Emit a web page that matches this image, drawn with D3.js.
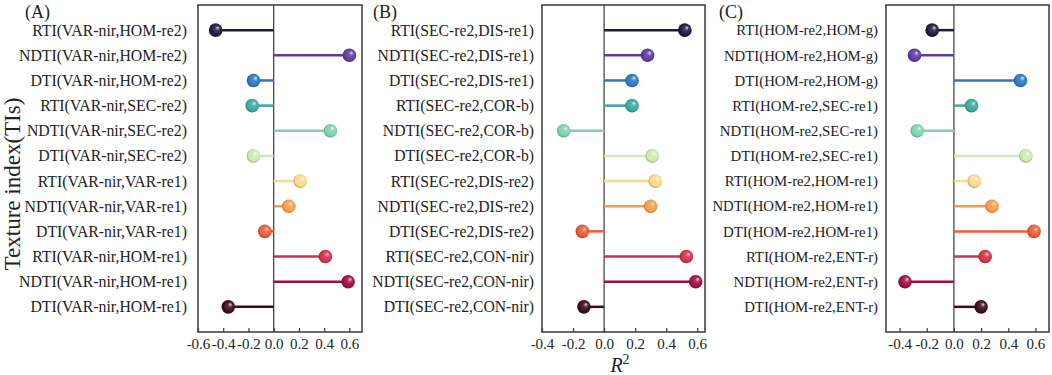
<!DOCTYPE html>
<html><head><meta charset="utf-8">
<script src="https://cdn.jsdelivr.net/npm/d3@7"></script>
<style>
body{margin:0;background:#fff;}
svg{display:block;font-family:"Liberation Serif","Times New Roman",serif;}
</style></head>
<body><svg id="c" width="1052" height="375"></svg>
<script>
const labelsA = ["RTI(VAR-nir,HOM-re2)","NDTI(VAR-nir,HOM-re2)","DTI(VAR-nir,HOM-re2)","RTI(VAR-nir,SEC-re2)","NDTI(VAR-nir,SEC-re2)","DTI(VAR-nir,SEC-re2)","RTI(VAR-nir,VAR-re1)","NDTI(VAR-nir,VAR-re1)","DTI(VAR-nir,VAR-re1)","RTI(VAR-nir,HOM-re1)","NDTI(VAR-nir,HOM-re1)","DTI(VAR-nir,HOM-re1)"];
const valuesA = [-0.46,0.60,-0.16,-0.17,0.45,-0.16,0.21,0.12,-0.07,0.41,0.59,-0.36];
const labelsB = ["RTI(SEC-re2,DIS-re1)","NDTI(SEC-re2,DIS-re1)","DTI(SEC-re2,DIS-re1)","RTI(SEC-re2,COR-b)","NDTI(SEC-re2,COR-b)","DTI(SEC-re2,COR-b)","RTI(SEC-re2,DIS-re2)","NDTI(SEC-re2,DIS-re2)","DTI(SEC-re2,DIS-re2)","RTI(SEC-re2,CON-nir)","NDTI(SEC-re2,CON-nir)","DTI(SEC-re2,CON-nir)"];
const valuesB = [0.52,0.28,0.18,0.18,-0.26,0.31,0.33,0.30,-0.14,0.53,0.59,-0.13];
const labelsC = ["RTI(HOM-re2,HOM-g)","NDTI(HOM-re2,HOM-g)","DTI(HOM-re2,HOM-g)","RTI(HOM-re2,SEC-re1)","NDTI(HOM-re2,SEC-re1)","DTI(HOM-re2,SEC-re1)","RTI(HOM-re2,HOM-re1)","NDTI(HOM-re2,HOM-re1)","DTI(HOM-re2,HOM-re1)","RTI(HOM-re2,ENT-r)","NDTI(HOM-re2,ENT-r)","DTI(HOM-re2,ENT-r)"];
const valuesC = [-0.16,-0.29,0.49,0.13,-0.27,0.53,0.15,0.28,0.59,0.23,-0.36,0.20];
const ticksA = [-0.6,-0.4,-0.2,0.0,0.2,0.4,0.6];
const ticksB = [-0.4,-0.2,0.0,0.2,0.4,0.6];
const ticksC = [-0.4,-0.2,0.0,0.2,0.4,0.6];
const panelTitles = ["(A)","(B)","(C)"];
const colors = ["#1e1a3e","#5a3d9e","#2f78bf","#3aa99e","#7ed2a9","#cdeaaf","#fed98b","#f99b4c","#ee5a39","#d2304b","#9e0e43","#3c0a1c"];

const panels = [
  {labels:labelsA, values:valuesA, ticks:ticksA, domain:[-0.6,0.7], x0:198, x1:362, title:panelTitles[0], tx:25, fs:15.8, pad:11},
  {labels:labelsB, values:valuesB, ticks:ticksB, domain:[-0.4,0.65], x0:542, x1:705, title:panelTitles[1], tx:373, fs:15.7, pad:8},
  {labels:labelsC, values:valuesC, ticks:ticksC, domain:[-0.5,0.7], x0:886, x1:1049, title:panelTitles[2], tx:719, fs:14.8, pad:8}
];
const plotTop = 5, plotBottom = 332;
const svg = d3.select("#c");
const defs = svg.append("defs");
colors.forEach((c,i)=>{
  const g = defs.append("radialGradient").attr("id","g"+i)
    .attr("cx","50%").attr("cy","50%").attr("r","55%").attr("fx","68%").attr("fy","30%");
  g.append("stop").attr("offset","0%").attr("stop-color",d3.interpolateRgb(c,"#fff")(0.85));
  g.append("stop").attr("offset","30%").attr("stop-color",d3.interpolateRgb(c,"#fff")(0.15));
  g.append("stop").attr("offset","75%").attr("stop-color",c);
  g.append("stop").attr("offset","100%").attr("stop-color",d3.interpolateRgb(c,"#000")(0.35));
});
const fmt = v => d3.format(".1f")(v).replace("\u2212","-");

panels.forEach(p=>{
  const x = d3.scaleLinear().domain(p.domain).range([p.x0,p.x1]);
  const y = d3.scalePoint().domain(p.labels).range([plotTop,plotBottom]).padding(1);
  const g = svg.append("g");
  g.append("rect").attr("x",p.x0).attr("y",plotTop).attr("width",p.x1-p.x0).attr("height",plotBottom-plotTop)
    .attr("fill","none").attr("stroke","#3a3a3a").attr("stroke-width",1.5);
  g.append("line").attr("x1",x(0)).attr("x2",x(0)).attr("y1",plotTop).attr("y2",plotBottom)
    .attr("stroke","#3a3a3a").attr("stroke-width",1.2);
  const ax = g.append("g").attr("transform",`translate(0,${plotBottom})`)
    .call(d3.axisBottom(x).tickValues(p.ticks).tickFormat(fmt).tickSizeInner(-4).tickSizeOuter(0).tickPadding(6));
  ax.attr("font-family","Liberation Serif").attr("font-size",15);
  ax.select(".domain").remove();
  ax.selectAll(".tick line").attr("stroke","#3a3a3a").attr("stroke-width",1.2);
  ax.selectAll(".tick text").attr("fill","#222");
  const ay = g.append("g").attr("transform",`translate(${p.x0},0)`)
    .call(d3.axisLeft(y).tickSize(0).tickPadding(p.pad));
  ay.attr("font-family","Liberation Serif").attr("font-size",p.fs);
  ay.select(".domain").remove();
  ay.selectAll(".tick text").attr("fill","#222");
  g.selectAll("line.stem").data(p.values).join("line").attr("class","stem")
    .attr("x1",x(0)).attr("x2",d=>x(d))
    .attr("y1",(d,i)=>y(p.labels[i])).attr("y2",(d,i)=>y(p.labels[i]))
    .attr("stroke",(d,i)=>colors[i]).attr("stroke-width",2.5);
  g.selectAll("circle.ball").data(p.values).join("circle").attr("class","ball")
    .attr("cx",d=>x(d)).attr("cy",(d,i)=>y(p.labels[i])).attr("r",6.8)
    .attr("fill",(d,i)=>`url(#g${i})`);
  g.append("text").attr("x",p.tx).attr("y",18).attr("font-size","18px").attr("fill","#222").text(p.title);
});

svg.append("text").attr("transform","translate(20,184) rotate(-90)").attr("text-anchor","middle")
  .attr("font-size","23px").attr("fill","#222").text("Texture index(TIs)");
const r2 = svg.append("text").attr("x",620).attr("y",372).attr("text-anchor","middle").attr("font-size","20px").attr("fill","#222");
r2.append("tspan").attr("font-style","italic").text("R");
r2.append("tspan").attr("font-size","14px").attr("dy","-8").text("2");
</script></body></html>
